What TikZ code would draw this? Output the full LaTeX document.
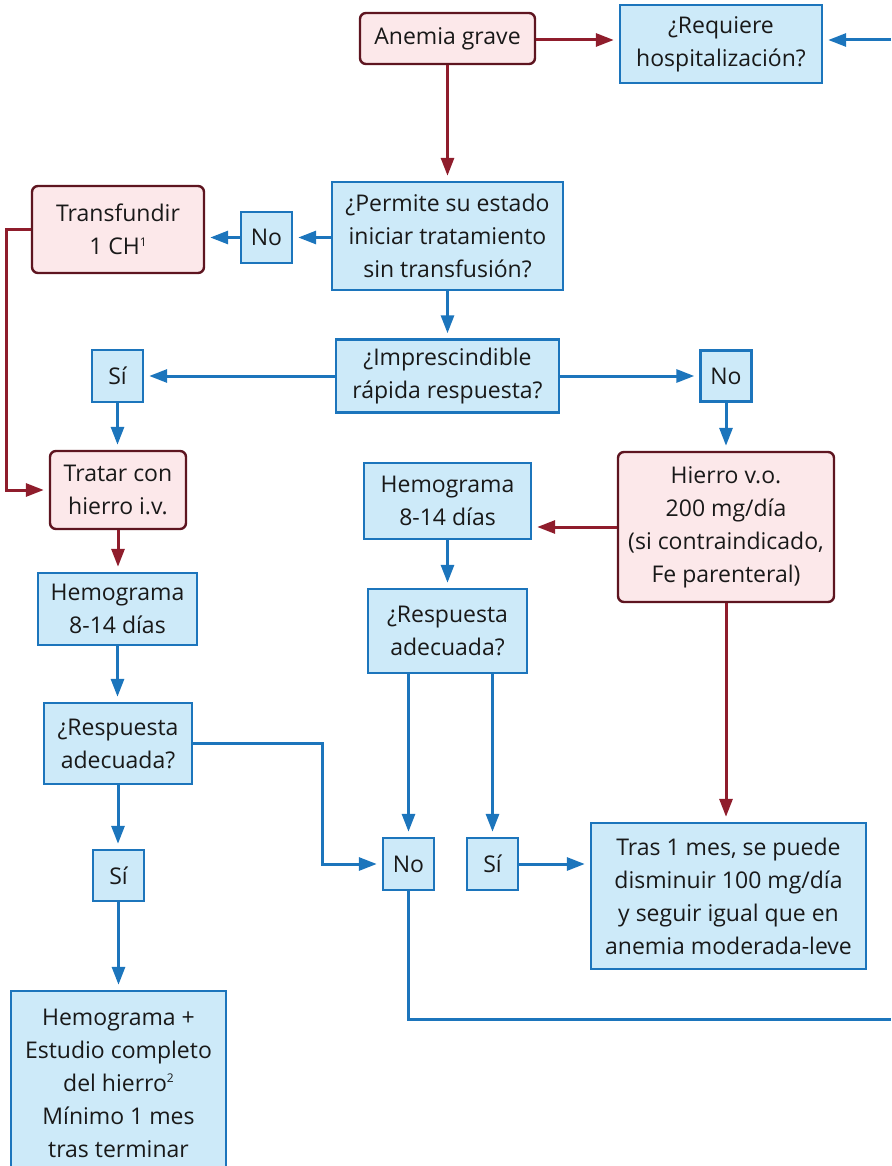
\documentclass[tikz,border=0pt]{standalone}
\usepackage{fontspec}
\setmainfont{Open Sans}
\usetikzlibrary{arrows.meta}
\definecolor{bfill}{HTML}{CDEAF9}
\definecolor{bline}{HTML}{1C75BC}
\definecolor{rfill}{HTML}{FCE8EA}
\definecolor{rline}{HTML}{5E1520}
\definecolor{rarrow}{HTML}{8F1D2C}
\newcommand{\supr}[1]{\raisebox{0.7ex}{\fontsize{12}{12}\selectfont #1}}
\tikzset{
  base/.style={rectangle, inner sep=0pt, align=center, text=black!90,
    font=\fontsize{23}{33}\selectfont, line width=2.4pt},
  bbox/.style={base, draw=bline, fill=bfill},
  rbox/.style={base, draw=rline, fill=rfill, rounded corners=6pt},
  barrow/.style={draw=bline, line width=3pt, -{Triangle[length=18pt,width=13pt]}, shorten >=5pt},
  rarr/.style={draw=rarrow, line width=3pt, -{Triangle[length=18pt,width=13pt]}, shorten >=5pt},
  bline/.style={draw=bline, line width=3pt},
}
\begin{document}
\begin{tikzpicture}[x=1pt,y=-1pt]
\useasboundingbox (0,0) rectangle (891,1166);
\clip (0,0) rectangle (891,1166);
% nodes
\node[rbox, minimum width=175pt, minimum height=51pt] (anemia) at (447.5,38.5) {Anemia grave};
\node[bbox, minimum width=202pt, minimum height=78pt] (req) at (721,44) {¿Requiere\\hospitalización?};
\node[bbox, minimum width=231pt, minimum height=108pt] (permite) at (447.5,236) {¿Permite su estado\\iniciar tratamiento\\sin transfusión?};
\node[bbox, minimum width=51pt, minimum height=51pt] (no1) at (266.5,237.5) {No};
\node[rbox, minimum width=172pt, minimum height=87pt] (transf) at (118,229.5) {Transfundir\\1 CH\supr{1}};
\node[bbox, minimum width=223pt, minimum height=73pt] (impr) at (447.5,376) {¿Imprescindible\\rápida respuesta?};
\node[bbox, minimum width=51pt, minimum height=52pt] (si1) at (117.5,376) {Sí};
\node[bbox, minimum width=51pt, minimum height=51pt] (no2) at (726,376) {No};
\node[rbox, minimum width=136pt, minimum height=78pt] (tratar) at (118,490) {Tratar con\\hierro i.v.};
\node[rbox, minimum width=216pt, minimum height=150pt] (hierro) at (726,527) {Hierro v.o.\\200 mg/día\\(si contraindicado,\\Fe parenteral)};
\node[bbox, minimum width=167pt, minimum height=76pt] (hemo2) at (447.5,501) {Hemograma\\8-14 días};
\node[bbox, minimum width=159pt, minimum height=84pt] (resp2) at (447.5,631) {¿Respuesta\\adecuada?};
\node[bbox, minimum width=159pt, minimum height=72pt] (hemo1) at (117.5,609) {Hemograma\\8-14 días};
\node[bbox, minimum width=148pt, minimum height=81pt] (resp1) at (118,743.5) {¿Respuesta\\adecuada?};
\node[bbox, minimum width=51pt, minimum height=51pt] (si2) at (118.5,875.5) {Sí};
\node[bbox, minimum width=215pt, minimum height=184pt] (hemo3) at (118.5,1083) {Hemograma +\\Estudio completo\\del hierro\supr{2}\\Mínimo 1 mes\\tras terminar};
\node[bbox, minimum width=51pt, minimum height=52pt] (no3) at (408.5,864) {No};
\node[bbox, minimum width=51pt, minimum height=52pt] (si3) at (492.5,864) {Sí};
\node[bbox, minimum width=275pt, minimum height=146pt] (tras) at (728.5,896) {Tras 1 mes, se puede\\disminuir 100 mg/día\\y seguir igual que en\\anemia moderada-leve};
% free ends
\coordinate (rin) at (891,40);
\coordinate (rout) at (891,1019);
\coordinate (k) at (322,0);
\coordinate (kl) at (6,0);
% connectors
\draw[rarr] (anemia.east |- rin) -- (req.west |- rin);
\draw[barrow] (rin) -- (rin -| req.east);
\draw[rarr] (anemia.south) -- (permite.north);
\draw[barrow] (permite.west |- no1.east) -- (no1.east);
\draw[barrow] (no1.west) -- (no1.west -| transf.east);
\draw[rarr] (transf.west) -- (kl |- transf.west) |- (tratar.west);
\draw[barrow] (permite.south) -- (impr.north);
\draw[barrow] (impr.west) -- (si1.east);
\draw[barrow] (impr.east) -- (no2.west);
\draw[barrow] (si1.south) -- (si1.south |- tratar.north);
\draw[barrow] (no2.south) -- (no2.south |- hierro.north);
\draw[rarr] (hierro.west) -- (hierro.west -| hemo2.east);
\draw[barrow] (hemo2.south) -- (resp2.north);
\draw[barrow] (resp2.south -| no3.north) -- (no3.north);
\draw[barrow] (resp2.south -| si3.north) -- (si3.north);
\draw[rarr] (hierro.south) -- (hierro.south |- tras.north);
\draw[rarr] (tratar.south) -- (tratar.south |- hemo1.north);
\draw[barrow] (hemo1.south) -- (hemo1.south |- resp1.north);
\draw[barrow] (resp1.east) -| (k |- no3.west) -- (no3.west);
\draw[barrow] (resp1.south) -- (resp1.south |- si2.north);
\draw[barrow] (si2.south) -- (si2.south |- hemo3.north);
\draw[barrow] (si3.east) -- (si3.east -| tras.west);
\draw[bline] (no3.south) |- (rout);
\end{tikzpicture}
\end{document}
